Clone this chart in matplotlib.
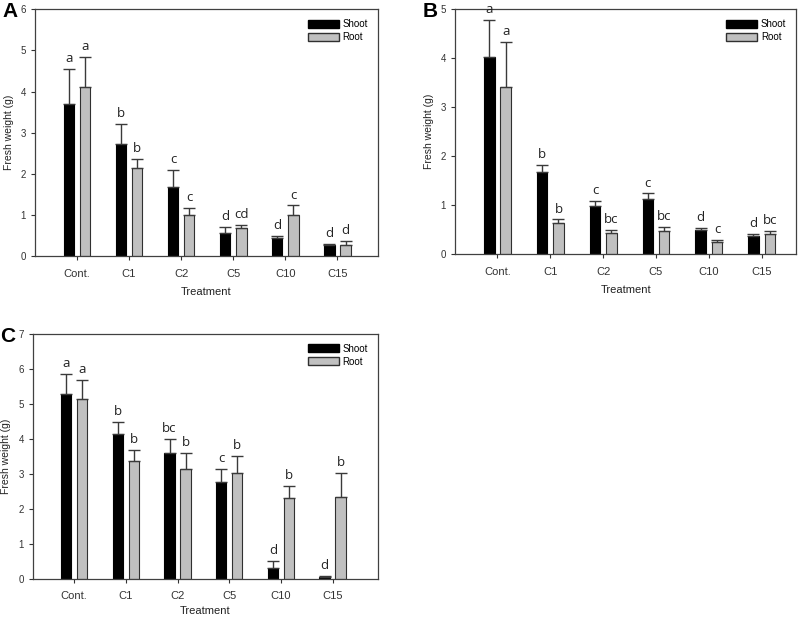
import numpy as np
import matplotlib.pyplot as plt
from matplotlib.patches import Patch

plt.rcParams["font.family"] = ["Liberation Sans", "DejaVu Sans"]

treatments = ["Cont.", "C1", "C2", "C5", "C10", "C15"]

# Panel A
a_shoot = [3.70, 2.72, 1.67, 0.57, 0.44, 0.26]
a_shoot_err = [0.85, 0.48, 0.43, 0.14, 0.05, 0.04]
a_root = [4.10, 2.14, 1.01, 0.68, 1.01, 0.28]
a_root_err = [0.73, 0.21, 0.15, 0.08, 0.22, 0.09]
a_shoot_lab = ["a", "b", "c", "d", "d", "d"]
a_root_lab = ["a", "b", "c", "cd", "c", "d"]

# Panel B
b_shoot = [4.02, 1.67, 0.98, 1.13, 0.50, 0.38]
b_shoot_err = [0.76, 0.15, 0.10, 0.11, 0.04, 0.04]
b_root = [3.41, 0.64, 0.44, 0.47, 0.25, 0.41]
b_root_err = [0.93, 0.07, 0.05, 0.08, 0.04, 0.07]
b_shoot_lab = ["a", "b", "c", "c", "d", "d"]
b_root_lab = ["a", "b", "bc", "bc", "c", "bc"]

# Panel C
c_shoot = [5.30, 4.13, 3.59, 2.77, 0.31, 0.07]
c_shoot_err = [0.56, 0.36, 0.40, 0.38, 0.21, 0.02]
c_root = [5.15, 3.37, 3.15, 3.02, 2.32, 2.35]
c_root_err = [0.53, 0.33, 0.44, 0.49, 0.33, 0.68]
c_shoot_lab = ["a", "b", "bc", "c", "d", "d"]
c_root_lab = ["a", "b", "b", "b", "b", "b"]

SHOOT_COLOR = "black"
ROOT_COLOR = "#c0c0c0"
FRAME = "#404040"


# Draw one grouped bar panel with one-sided error bars and letters
def draw_panel(fig, rect, panel, ymax, shoot, shoot_err, root, root_err, shoot_lab, root_lab,
               xright, xlabelpad=6):
  ax = fig.add_axes(rect)
  x = np.arange(len(treatments))
  w = 0.2
  off = 0.155
  ekw = dict(ecolor="#3a3a3a", elinewidth=1.0, capsize=4, capthick=1.0)
  ax.bar(x - off, shoot, w, color=SHOOT_COLOR, edgecolor="black", linewidth=0.8,
         yerr=[np.zeros(len(shoot)), shoot_err], error_kw=ekw, zorder=2)
  ax.bar(x + off, root, w, color=ROOT_COLOR, edgecolor="#303030", linewidth=0.8,
         yerr=[np.zeros(len(root)), root_err], error_kw=ekw, zorder=2)

  pad = ymax * 0.016
  for xi, v, e, lab in zip(x - off, shoot, shoot_err, shoot_lab):
    ax.text(xi, v + e + pad, lab, ha="center", va="bottom", fontsize=9.5,
            family=["Open Sans", "DejaVu Sans"], color="#222222")
  for xi, v, e, lab in zip(x + off, root, root_err, root_lab):
    ax.text(xi, v + e + pad, lab, ha="center", va="bottom", fontsize=9.5,
            family=["Open Sans", "DejaVu Sans"], color="#222222")

  ax.set_xlim(-0.8, xright)
  ax.set_ylim(0, ymax)
  ax.set_yticks(range(0, ymax + 1))
  ax.set_xticks(x)
  ax.set_xticklabels(treatments, fontsize=8)
  ax.tick_params(axis="y", labelsize=7, colors="#333333", length=3, width=0.8, direction="out")
  ax.tick_params(axis="x", length=3, width=0.8, direction="out", colors="#333333", pad=6)
  ax.set_xlabel("Treatment", fontsize=8, color="#222222", labelpad=xlabelpad)
  ax.set_ylabel("Fresh weight (g)", fontsize=7.5, color="#222222", labelpad=5)
  for sp in ax.spines.values():
    sp.set_color(FRAME)
    sp.set_linewidth(0.9)

  handles = [Patch(facecolor=SHOOT_COLOR, edgecolor="black", label="Shoot"),
             Patch(facecolor=ROOT_COLOR, edgecolor="#303030", label="Root")]
  ax.legend(handles=handles, loc="upper right", frameon=False, fontsize=7,
            handlelength=3.2, handleheight=0.9, handletextpad=0.4, labelspacing=0.3,
            borderaxespad=0.6)

  fig.text(rect[0] - 0.041, rect[1] + rect[3] - 0.004, panel, fontsize=15, fontweight="bold",
           ha="left", va="center", family=["Liberation Sans", "DejaVu Sans"])
  return ax


fig = plt.figure(figsize=(8.0, 6.17), dpi=100)

draw_panel(fig, [0.044, 0.585, 0.428, 0.400], "A", 6,
           a_shoot, a_shoot_err, a_root, a_root_err, a_shoot_lab, a_root_lab, 5.77)
draw_panel(fig, [0.569, 0.588, 0.426, 0.397], "B", 5,
           b_shoot, b_shoot_err, b_root, b_root_err, b_shoot_lab, b_root_lab, 5.65)
draw_panel(fig, [0.041, 0.0616, 0.431, 0.397], "C", 7,
           c_shoot, c_shoot_err, c_root, c_root_err, c_shoot_lab, c_root_lab, 5.87, xlabelpad=3)

fig.savefig("out.png", dpi=100)
